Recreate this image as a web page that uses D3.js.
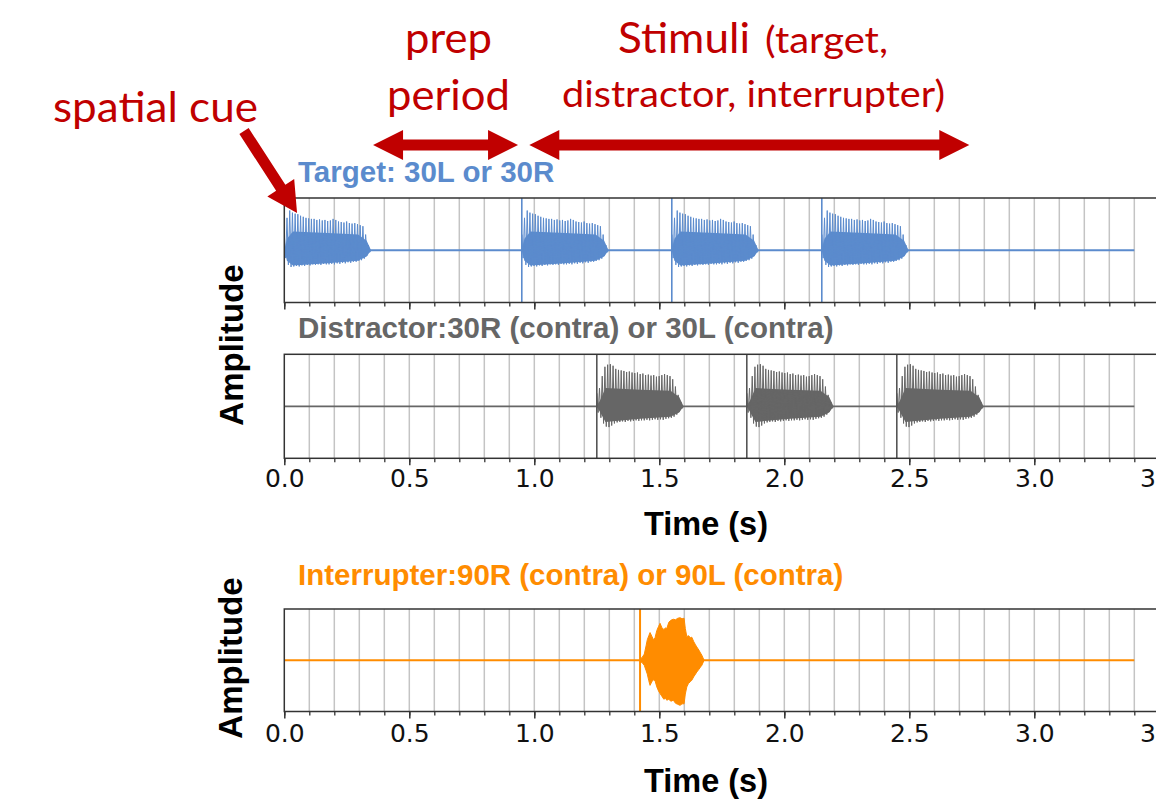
<!DOCTYPE html>
<html>
<head>
<meta charset="utf-8">
<script src="https://cdn.jsdelivr.net/npm/d3@7"></script>
<style>
  body { margin: 0; background: #fff; }
  svg { display: block; }
</style>
</head>
<body>
<div id="chart"></div>
<script>
// ---- data ----
const xTickValues = [0, 0.5, 1.0, 1.5, 2.0, 2.5, 3.0, 3.5];
const signalEnd = 3.4;          // seconds, end of the recorded trace
const toneDuration = 0.347;     // seconds, length of one target / distractor tone

const targetOnsets = [0, 0.95, 1.55, 2.15];
const distractorOnsets = [1.25, 1.85, 2.45];
const interrupterOnsets = [1.423];

// spike tops and troughs of one tone (32 glottal-like pulses)
const targetPeaks = [0.30, 0.62, 0.76, 0.72, 0.70, 0.69, 0.66, 0.64, 0.62, 0.61, 0.60, 0.60, 0.58, 0.59, 0.57, 0.58,
                     0.56, 0.57, 0.60, 0.58, 0.55, 0.54, 0.53, 0.55, 0.52, 0.51, 0.52, 0.50, 0.48, 0.46, 0.30, 0.10];
const targetTroughs = [-0.15, -0.28, -0.32, -0.31, -0.30, -0.31, -0.29, -0.30, -0.28, -0.29, -0.27, -0.28, -0.27, -0.28, -0.26, -0.27,
                       -0.27, -0.26, -0.27, -0.25, -0.26, -0.24, -0.25, -0.23, -0.24, -0.22, -0.22, -0.20, -0.19, -0.16, -0.10, -0.04];
// solid body of the tone: [fraction of tone, top, bottom]
const targetBody = [[0, 0, 0], [0.03, 0.22, -0.20], [0.1, 0.36, -0.29], [0.5, 0.33, -0.25], [0.85, 0.30, -0.20], [0.95, 0.18, -0.12], [1, 0, 0]];

const distractorPeaks = [0.25, 0.35, 0.58, 0.76, 0.80, 0.81, 0.78, 0.72, 0.70, 0.69, 0.68, 0.66, 0.67, 0.65, 0.64, 0.65,
                         0.62, 0.63, 0.60, 0.61, 0.59, 0.60, 0.57, 0.58, 0.60, 0.62, 0.60, 0.58, 0.52, 0.38, 0.22, 0.08];
const distractorTroughs = [-0.12, -0.22, -0.33, -0.39, -0.40, -0.37, -0.33, -0.31, -0.30, -0.29, -0.30, -0.28, -0.29, -0.28, -0.27, -0.28,
                           -0.27, -0.27, -0.26, -0.27, -0.26, -0.25, -0.26, -0.25, -0.26, -0.24, -0.23, -0.22, -0.20, -0.16, -0.10, -0.04];
const distractorBody = [[0, 0, 0], [0.04, 0.12, -0.12], [0.1, 0.35, -0.30], [0.5, 0.32, -0.24], [0.85, 0.30, -0.20], [0.95, 0.18, -0.12], [1, 0, 0]];

// noise burst of the interrupter
const interrupterTimes = [1.423, 1.432, 1.440, 1.447, 1.452, 1.458, 1.463, 1.470, 1.477, 1.483, 1.490, 1.497, 1.503, 1.510, 1.518, 1.525, 1.530, 1.538, 1.546,
                          1.556, 1.565, 1.574, 1.583, 1.591, 1.599, 1.604, 1.610, 1.617, 1.624, 1.630, 1.638, 1.645, 1.650, 1.658, 1.665, 1.670, 1.679];
const interrupterTop = [0.02, 0.06, 0.12, 0.28, 0.40, 0.48, 0.54, 0.47, 0.40, 0.44, 0.58, 0.66, 0.72, 0.64, 0.60, 0.63, 0.62, 0.74, 0.78,
                        0.80, 0.79, 0.82, 0.83, 0.81, 0.82, 0.62, 0.46, 0.48, 0.44, 0.45, 0.36, 0.30, 0.26, 0.20, 0.14, 0.10, 0.0];
const interrupterBottom = [-0.02, -0.05, -0.10, -0.20, -0.27, -0.40, -0.49, -0.42, -0.38, -0.40, -0.52, -0.60, -0.65, -0.70, -0.76, -0.74, -0.78, -0.76, -0.80,
                           -0.78, -0.84, -0.86, -0.88, -0.85, -0.85, -0.66, -0.52, -0.45, -0.42, -0.39, -0.32, -0.27, -0.23, -0.18, -0.13, -0.10, 0.0];

// annotation spans in seconds
const prepSpan = [0.355, 0.935];
const stimuliSpan = [0.98, 2.74];

// ---- layout ----
let width = 1156;
let height = 799;
const red = "#c00000";
const titleFont = "'Liberation Sans', Arial, sans-serif";
const tickFont = "'DejaVu Sans', sans-serif";
const noteFont = "Lato, 'Open Sans', sans-serif";

let svg = d3.select("#chart").append("svg")
    .attr("width", width)
    .attr("height", height);

let x = d3.scaleLinear()
    .domain([0, 3.6])
    .range([284.3, 284.3 + 3.6 * 250]);

function drawPanel(cfg) {
    let y = d3.scaleLinear().domain([-1, 1]).range([cfg.bottom, cfg.top]);
    let g = svg.append("g");

    g.append("clipPath").attr("id", cfg.id + "-clip")
        .append("rect")
        .attr("x", x(0)).attr("y", cfg.top)
        .attr("width", x(3.6) - x(0)).attr("height", cfg.bottom - cfg.top);

    // grid every 0.1 s
    g.append("g").selectAll("line")
        .data(d3.range(1, 35).map(i => i / 10))
        .join("line")
        .attr("x1", d => x(d)).attr("x2", d => x(d))
        .attr("y1", cfg.top).attr("y2", cfg.bottom)
        .attr("stroke", "#c4c4c4")
        .attr("stroke-width", 1.5);

    let data = g.append("g").attr("clip-path", `url(#${cfg.id}-clip)`);

    data.append("line")
        .attr("x1", x(0)).attr("x2", x(signalEnd))
        .attr("y1", y(0)).attr("y2", y(0))
        .attr("stroke", cfg.color)
        .attr("stroke-width", cfg.baseWidth);

    if (cfg.peaks) {
        let area = d3.area()
            .x(d => x(d.on + d.p[0] * toneDuration))
            .y0(d => y(d.p[2]))
            .y1(d => y(d.p[1]));
        let line = d3.line().x(d => x(d[0])).y(d => y(d[1]));
        cfg.onsets.forEach(on => {
            data.append("path")
                .datum(cfg.body.map(p => ({on: on, p: p})))
                .attr("d", area)
                .attr("fill", cfg.color);
            let n = cfg.peaks.length;
            let period = toneDuration / n;
            let pts = [[on, 0]];
            cfg.peaks.forEach((v, k) => {
                pts.push([on + k * period, v]);
                pts.push([on + (k + 0.5) * period, cfg.troughs[k]]);
            });
            pts.push([on + toneDuration, 0]);
            data.append("path")
                .datum(pts)
                .attr("d", line)
                .attr("fill", "none")
                .attr("stroke", cfg.color)
                .attr("stroke-width", 1);
        });
    } else {
        let area = d3.area()
            .x((d, i) => x(interrupterTimes[i]))
            .y0((d, i) => y(interrupterBottom[i]))
            .y1((d, i) => y(interrupterTop[i]));
        data.append("path")
            .datum(interrupterTimes)
            .attr("d", area)
            .attr("fill", cfg.color)
            .attr("stroke", cfg.color)
            .attr("stroke-width", 1);
    }

    // onset clicks, clipped by the axes
    data.selectAll(".onset")
        .data(cfg.onsets.filter(d => d > 0))
        .join("line")
        .attr("class", "onset")
        .attr("x1", d => x(d)).attr("x2", d => x(d))
        .attr("y1", cfg.top).attr("y2", cfg.bottom)
        .attr("stroke", cfg.clickColor)
        .attr("stroke-width", cfg.clickWidth);

    // minor and major ticks
    g.append("g")
        .attr("transform", `translate(0,${cfg.bottom})`)
        .call(d3.axisBottom(x).tickValues(d3.range(0, 37).map(i => i / 10)).tickSize(4).tickSizeOuter(0).tickFormat(""))
        .call(a => a.select(".domain").remove())
        .call(a => a.selectAll("line").attr("stroke", "#333").attr("stroke-width", 1.3));

    let major = g.append("g")
        .attr("transform", `translate(0,${cfg.bottom})`)
        .call(d3.axisBottom(x).tickValues(xTickValues).tickSize(7).tickSizeOuter(0).tickPadding(cfg.tickPad)
            .tickFormat(cfg.labels ? d3.format(".1f") : ""));
    major.select(".domain").remove();
    major.selectAll("line").attr("stroke", "#333").attr("stroke-width", 1.5);
    major.selectAll("text")
        .attr("fill", "#111")
        .attr("font-family", tickFont)
        .attr("font-size", 25);

    // frame
    g.append("rect")
        .attr("x", x(0)).attr("y", cfg.top)
        .attr("width", x(3.6) - x(0)).attr("height", cfg.bottom - cfg.top)
        .attr("fill", "none")
        .attr("stroke", "#333")
        .attr("stroke-width", 1.5);

    svg.append("text")
        .attr("x", 298).attr("y", cfg.titleY)
        .attr("font-family", titleFont)
        .attr("font-weight", "bold")
        .attr("font-size", 29.5)
        .attr("fill", cfg.color)
        .text(cfg.title);
}

drawPanel({id: "target", top: 198, bottom: 302.5, color: "#5b8bcd", clickColor: "#5b8bcd", clickWidth: 1.6, baseWidth: 2,
    onsets: targetOnsets, peaks: targetPeaks, troughs: targetTroughs, body: targetBody,
    labels: false, tickPad: 4, title: "Target: 30L or 30R", titleY: 182});
drawPanel({id: "distractor", top: 354.3, bottom: 458.3, color: "#666666", clickColor: "#555555", clickWidth: 1.6, baseWidth: 1.8,
    onsets: distractorOnsets, peaks: distractorPeaks, troughs: distractorTroughs, body: distractorBody,
    labels: true, tickPad: 4, title: "Distractor:30R (contra) or 30L (contra)", titleY: 338});
drawPanel({id: "interrupter", top: 609, bottom: 711.5, color: "#ff8c00", clickColor: "#ff8c00", clickWidth: 2, baseWidth: 2,
    onsets: interrupterOnsets, peaks: null,
    labels: true, tickPad: 5.5, title: "Interrupter:90R (contra) or 90L (contra)", titleY: 585});

// axis labels
[[243, 345], [242, 658]].forEach(p => {
    svg.append("text")
        .attr("transform", `translate(${p[0]},${p[1]}) rotate(-90)`)
        .attr("text-anchor", "middle")
        .attr("font-family", titleFont)
        .attr("font-weight", "bold")
        .attr("font-size", 33)
        .attr("fill", "#000")
        .text("Amplitude");
});
[535, 792].forEach(yy => {
    svg.append("text")
        .attr("x", 706).attr("y", yy)
        .attr("text-anchor", "middle")
        .attr("font-family", titleFont)
        .attr("font-weight", "bold")
        .attr("font-size", 32.5)
        .attr("fill", "#000")
        .text("Time (s)");
});

// ---- annotations ----
function note(txt, x0, y0, size, len) {
    svg.append("text")
        .attr("x", x0).attr("y", y0)
        .attr("font-family", noteFont)
        .attr("font-size", size)
        .attr("fill", red)
        .attr("textLength", len)
        .attr("lengthAdjust", "spacingAndGlyphs")
        .text(txt);
}
note("spatial cue", 53, 122, 43, 205);
note("prep", 405, 53, 43, 87);
note("period", 387, 110, 43, 123);
note("Stimuli", 618, 53, 43, 132);
note("(target,", 765, 53, 37, 123);
note("distractor, interrupter)", 562, 107, 37, 383);

let headLen = 30, headHalf = 15, shaftHalf = 5.5;

function doubleArrow(span, yy) {
    let a = x(span[0]), b = x(span[1]);
    let pts = [
        [a, yy], [a + headLen, yy - headHalf], [a + headLen, yy - shaftHalf],
        [b - headLen, yy - shaftHalf], [b - headLen, yy - headHalf], [b, yy],
        [b - headLen, yy + headHalf], [b - headLen, yy + shaftHalf],
        [a + headLen, yy + shaftHalf], [a + headLen, yy + headHalf]
    ];
    svg.append("polygon")
        .attr("points", pts.map(p => p.join(",")).join(" "))
        .attr("fill", red);
}
doubleArrow(prepSpan, 145);
doubleArrow(stimuliSpan, 145);

function arrow(x0, y0, x1, y1) {
    let len = Math.hypot(x1 - x0, y1 - y0);
    let ux = (x1 - x0) / len, uy = (y1 - y0) / len;
    let px = -uy, py = ux;
    let bx = x1 - ux * headLen, by = y1 - uy * headLen;
    let hh = 16;
    let pts = [
        [x0 + px * shaftHalf, y0 + py * shaftHalf],
        [bx + px * shaftHalf, by + py * shaftHalf],
        [bx + px * hh, by + py * hh],
        [x1, y1],
        [bx - px * hh, by - py * hh],
        [bx - px * shaftHalf, by - py * shaftHalf],
        [x0 - px * shaftHalf, y0 - py * shaftHalf]
    ];
    svg.append("polygon")
        .attr("points", pts.map(p => p.join(",")).join(" "))
        .attr("fill", red);
}
arrow(244, 131, x(0.051), 213);
</script>
</body>
</html>
